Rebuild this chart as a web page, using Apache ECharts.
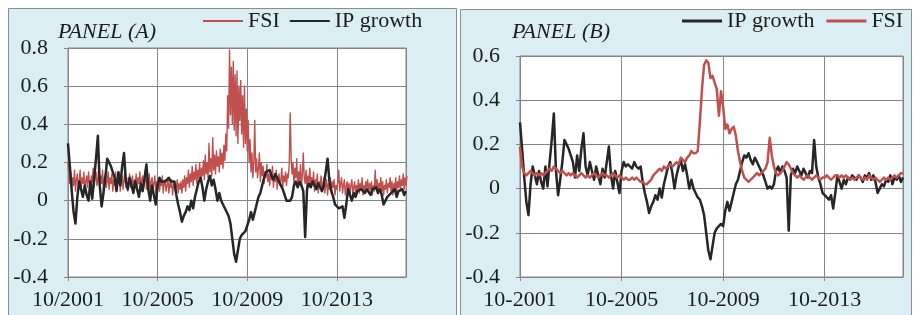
<!DOCTYPE html>
<html>
<head>
<meta charset="utf-8">
<script src="https://cdn.jsdelivr.net/npm/echarts@6/dist/echarts.min.js"></script>
<style>
  html, body { margin: 0; padding: 0; background: #fff; }
  #chart { width: 913px; height: 315px; }
</style>
</head>
<body>
<div id="chart"></div>
<script>
// months counted from 10/2001 (index 0) to 11/2016 (index 181)
const startYear = 2001;
const lastMonth = 181;
const tickStep = 48;

// industrial production growth, monthly
const ipGrowth = [
  0.30, 0.18, 0.05, -0.06, -0.12, 0.02, 0.10, 0.06, 0.02, 0.08, 0.03, 0.00,
  0.10, 0.01, 0.12, 0.22, 0.34, 0.08, -0.03, 0.04, 0.12, 0.22, 0.20, 0.18,
  0.15, 0.12, 0.05, 0.15, 0.08, 0.18, 0.25, 0.10, 0.06, 0.12, 0.08, 0.04,
  0.10, 0.06, 0.02, 0.09, 0.05, 0.12, 0.19, 0.06, 0.00, 0.08, 0.03, -0.02,
  0.08, 0.12, 0.10, 0.11, 0.10, 0.09, 0.12, 0.10, 0.09, 0.10, 0.03, -0.02,
  -0.06, -0.11, -0.08, -0.06, -0.03, -0.05, 0.00, -0.04, 0.02, 0.06, 0.10, 0.12,
  0.07, 0.00, 0.06, 0.10, 0.13, 0.08, 0.11, 0.06, 0.00, 0.04, 0.00, -0.02,
  -0.04, -0.05, -0.08, -0.12, -0.20, -0.28, -0.32, -0.26, -0.20, -0.18, -0.17, -0.16,
  -0.17, -0.10, -0.06, -0.10, -0.06, -0.02, 0.02, 0.04, 0.08, 0.12, 0.15, 0.14,
  0.16, 0.13, 0.11, 0.14, 0.12, 0.10, 0.08, 0.06, 0.03, 0.00, 0.01, 0.00,
  0.02, 0.08, 0.10, 0.07, 0.10, 0.08, 0.05, -0.19, 0.06, 0.09, 0.07, 0.10,
  0.08, 0.06, 0.09, 0.07, 0.05, 0.08, 0.07, 0.22, 0.10, 0.05, 0.02, -0.02,
  -0.03, -0.04, -0.05, -0.03, -0.09, -0.02, 0.06, 0.03, 0.00, 0.04, 0.02, 0.05,
  0.04, 0.06, 0.05, 0.04, 0.06, 0.05, 0.03, 0.06, 0.05, 0.07, 0.04, 0.06,
  0.03, -0.02, 0.00, 0.02, 0.01, 0.04, 0.03, 0.06, 0.02, 0.05, 0.04, 0.06,
  0.03, 0.05
];

// financial stress index, two readings per month (panel A)
const fsiHalfMonthly = [
  0.20, 0.14, 0.09, 0.15, 0.06, 0.12, 0.08, 0.16, 0.05, 0.11, 0.14, 0.07, 0.10, 0.16, 0.06, 0.12, 0.09, 0.15, 0.05, 0.10, 0.13, 0.07, 0.15, 0.09,
  0.06, 0.13, 0.10, 0.17, 0.07, 0.12, 0.15, 0.08, 0.11, 0.18, 0.06, 0.13, 0.09, 0.16, 0.05, 0.12, 0.14, 0.07, 0.10, 0.15, 0.06, 0.12, 0.09, 0.14,
  0.05, 0.11, 0.08, 0.15, 0.06, 0.12, 0.09, 0.14, 0.05, 0.10, 0.13, 0.06, 0.11, 0.16, 0.07, 0.12, 0.05, 0.10, 0.14, 0.07, 0.09, 0.13, 0.05, 0.11,
  0.08, 0.14, 0.06, 0.12, 0.09, 0.15, 0.05, 0.11, 0.13, 0.07, 0.10, 0.16, 0.06, 0.12, 0.08, 0.14, 0.05, 0.10, 0.12, 0.06, 0.09, 0.13, 0.04, 0.10,
  0.07, 0.12, 0.05, 0.10, 0.08, 0.13, 0.04, 0.09, 0.11, 0.05, 0.08, 0.12, 0.04, 0.09, 0.07, 0.11, 0.03, 0.08, 0.10, 0.05, 0.07, 0.11, 0.04, 0.09,
  0.06, 0.10, 0.04, 0.11, 0.07, 0.13, 0.05, 0.12, 0.09, 0.16, 0.07, 0.14, 0.10, 0.18, 0.08, 0.15, 0.11, 0.19, 0.09, 0.16, 0.12, 0.20, 0.10, 0.17,
  0.13, 0.21, 0.11, 0.24, 0.14, 0.20, 0.12, 0.30, 0.15, 0.22, 0.13, 0.33, 0.16, 0.24, 0.14, 0.26, 0.18, 0.23, 0.15, 0.27, 0.19, 0.25, 0.17, 0.29,
  0.21, 0.35, 0.26, 0.55, 0.38, 0.79, 0.45, 0.70, 0.40, 0.73, 0.37, 0.66, 0.34, 0.68, 0.30, 0.60, 0.42, 0.63, 0.35, 0.55, 0.28, 0.60, 0.30, 0.48,
  0.26, 0.42, 0.20, 0.32, 0.15, 0.25, 0.12, 0.20, 0.42, 0.15, 0.22, 0.12, 0.17, 0.25, 0.10, 0.20, 0.13, 0.18, 0.09, 0.15, 0.12, 0.19, 0.10, 0.14,
  0.08, 0.15, 0.11, 0.18, 0.07, 0.13, 0.10, 0.16, 0.06, 0.12, 0.14, 0.08, 0.11, 0.17, 0.07, 0.13, 0.10, 0.15, 0.08, 0.14, 0.12, 0.20, 0.46, 0.22,
  0.14, 0.20, 0.09, 0.17, 0.12, 0.22, 0.08, 0.15, 0.11, 0.19, 0.07, 0.14, 0.25, 0.12, 0.09, 0.16, 0.06, 0.13, 0.10, 0.17, 0.07, 0.12, 0.09, 0.15,
  0.05, 0.11, 0.08, 0.14, 0.04, 0.10, 0.07, 0.13, 0.05, 0.09, 0.12, 0.04, 0.08, 0.11, 0.03, 0.09, 0.06, 0.12, 0.04, 0.10, 0.07, 0.11, 0.03, 0.08,
  0.06, 0.10, 0.16, 0.05, 0.09, 0.12, 0.04, 0.08, 0.11, 0.03, 0.07, 0.10, 0.05, 0.09, 0.03, 0.08, 0.11, 0.04, 0.07, 0.10, 0.03, 0.08, 0.05, 0.11,
  0.04, 0.09, 0.06, 0.12, 0.03, 0.08, 0.05, 0.10, 0.07, 0.11, 0.04, 0.09, 0.06, 0.10, 0.03, 0.08, 0.05, 0.16, 0.06, 0.11, 0.04, 0.09, 0.07, 0.12,
  0.05, 0.10, 0.03, 0.08, 0.06, 0.11, 0.04, 0.09, 0.07, 0.12, 0.05, 0.10, 0.03, 0.09, 0.06, 0.12, 0.04, 0.10, 0.07, 0.13, 0.05, 0.11, 0.08, 0.14,
  0.06, 0.12, 0.08, 0.13
];

// financial stress index, monthly (panel B)
const fsiMonthly = [
  0.19, 0.10, 0.07, 0.06, 0.07, 0.08, 0.07, 0.06, 0.07, 0.06, 0.07, 0.06,
  0.07, 0.08, 0.09, 0.08, 0.10, 0.09, 0.08, 0.07, 0.08, 0.07, 0.06, 0.07,
  0.06, 0.07, 0.06, 0.05, 0.06, 0.07, 0.06, 0.05, 0.06, 0.05, 0.06, 0.07,
  0.06, 0.05, 0.06, 0.07, 0.06, 0.06, 0.05, 0.06, 0.07, 0.06, 0.05, 0.06,
  0.05, 0.04, 0.05, 0.04, 0.04, 0.05, 0.04, 0.05, 0.04, 0.03, 0.03, 0.02,
  0.02, 0.03, 0.04, 0.06, 0.07, 0.08, 0.09, 0.08, 0.10, 0.09, 0.10, 0.11,
  0.10, 0.11, 0.12, 0.11, 0.14, 0.13, 0.12, 0.14, 0.15, 0.17, 0.16, 0.16,
  0.17, 0.30, 0.45, 0.56, 0.58, 0.57, 0.50, 0.51, 0.48, 0.45, 0.33, 0.44,
  0.37, 0.27, 0.29, 0.25, 0.27, 0.28, 0.24, 0.17, 0.12, 0.08, 0.05, 0.04,
  0.03, 0.04, 0.05, 0.06, 0.07, 0.06, 0.07, 0.08, 0.09, 0.12, 0.23, 0.15,
  0.10, 0.07, 0.06, 0.07, 0.08, 0.10, 0.12, 0.11, 0.09, 0.07, 0.06, 0.05,
  0.06, 0.05, 0.04, 0.05, 0.06, 0.05, 0.04, 0.05, 0.06, 0.05, 0.04, 0.05,
  0.05, 0.06, 0.05, 0.04, 0.05, 0.06, 0.06, 0.05, 0.06, 0.05, 0.06, 0.05,
  0.04, 0.05, 0.04, 0.05, 0.06, 0.05, 0.04, 0.05, 0.04, 0.06, 0.05, 0.04,
  0.05, 0.04, 0.03, 0.04, 0.05, 0.04, 0.05, 0.04, 0.05, 0.06, 0.05, 0.06,
  0.07, 0.07
];

const yTicksA = { min: -0.4, max: 0.8 };
const yTicksB = { min: -0.4, max: 0.6 };

const FONT = 'Liberation Serif';
const TEXT = '#1c1c1c';
const LINE_GRAY = '#858585';
const RED = '#c0504d';
const BLACK = '#262626';

const labelFont = { fontFamily: FONT, fontSize: 22, color: TEXT };

function makeX(gridIndex, sep) {
  return {
    type: 'value',
    gridIndex,
    min: 0,
    max: lastMonth,
    interval: tickStep,
    axisLine: { onZero: false, lineStyle: { color: LINE_GRAY } },
    axisTick: { length: 4, lineStyle: { color: LINE_GRAY } },
    splitLine: { lineStyle: { color: LINE_GRAY } },
    axisLabel: Object.assign({
      margin: 12,
      showMaxLabel: false,
      formatter: v => (v % tickStep === 0 ? '10' + sep + (startYear + v / 12) : '')
    }, labelFont)
  };
}

function makeY(gridIndex, range) {
  return {
    type: 'value',
    gridIndex,
    min: range.min,
    max: range.max,
    interval: 0.2,
    axisLine: { show: true, lineStyle: { color: LINE_GRAY } },
    axisTick: { show: true, length: 4, lineStyle: { color: LINE_GRAY } },
    splitLine: { lineStyle: { color: LINE_GRAY } },
    axisLabel: Object.assign({
      margin: 20,
      formatter: v => String(+v.toFixed(1))
    }, labelFont)
  };
}

function line(name, idx, points, color, width) {
  return {
    name,
    type: 'line',
    xAxisIndex: idx,
    yAxisIndex: idx,
    data: points,
    symbol: 'none',
    lineStyle: { color, width, join: 'round' },
    itemStyle: { color },
    animation: false
  };
}

const ipPoints = ipGrowth.map((v, i) => [i, v]);
const fsiPointsA = fsiHalfMonthly.map((v, i) => [i / 2, v]);
const fsiPointsB = fsiMonthly.map((v, i) => [i, v]);

const titleStyle = { fontFamily: FONT, fontStyle: 'italic', fontWeight: 'normal', fontSize: 22, color: TEXT };

const chart = echarts.init(document.getElementById('chart'));
chart.setOption({
  backgroundColor: '#fff',
  animation: false,
  graphic: [
    { type: 'rect', z: -10, shape: { x: 8.5, y: 8.5, width: 448, height: 330 }, style: { fill: '#daeef3', stroke: '#8c8c8c', lineWidth: 1 } },
    { type: 'rect', z: -10, shape: { x: 460.5, y: 9.5, width: 451, height: 330 }, style: { fill: '#daeef3', stroke: '#8c8c8c', lineWidth: 1 } }
  ],
  title: [
    { text: 'PANEL (A)', left: 58, top: 21, padding: 0, textStyle: titleStyle },
    { text: 'PANEL (B)', left: 512, top: 21, padding: 0, textStyle: titleStyle }
  ],
  legend: [
    {
      left: 203, top: 10, padding: 0, icon: 'rect', itemWidth: 40, itemHeight: 2, itemGap: 10,
      data: ['A:FSI', 'A:IP growth'],
      formatter: n => n.slice(2),
      textStyle: labelFont
    },
    {
      left: 682, top: 10, padding: 0, icon: 'rect', itemWidth: 40, itemHeight: 3, itemGap: 12,
      data: ['B:IP growth', 'B:FSI'],
      formatter: n => n.slice(2),
      textStyle: labelFont
    }
  ],
  grid: [
    { left: 68, top: 48, width: 338, height: 229, show: true, backgroundColor: '#fff', borderColor: LINE_GRAY, borderWidth: 1 },
    { left: 520, top: 56, width: 383, height: 221, show: true, backgroundColor: '#fff', borderColor: LINE_GRAY, borderWidth: 1 }
  ],
  xAxis: [makeX(0, '/'), makeX(1, '-')],
  yAxis: [makeY(0, yTicksA), makeY(1, yTicksB)],
  series: [
    line('A:FSI', 0, fsiPointsA, RED, 1.4),
    line('A:IP growth', 0, ipPoints, BLACK, 2.5),
    line('B:IP growth', 1, ipPoints, BLACK, 2.5),
    line('B:FSI', 1, fsiPointsB, RED, 2.5)
  ]
});
</script>
</body>
</html>
